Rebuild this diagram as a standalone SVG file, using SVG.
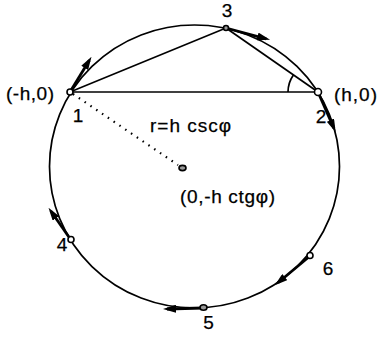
<svg xmlns="http://www.w3.org/2000/svg" width="378" height="339" viewBox="0 0 378 339">
<defs>
<marker id="ah" viewBox="0 0 13 8" refX="9" refY="4" markerWidth="13" markerHeight="8" markerUnits="userSpaceOnUse" orient="auto">
<path d="M0,0 L13,4 L0,8 z" fill="#000"/>
</marker>
<style>
.ln{stroke:#000;stroke-width:1.7;fill:none}
.ar{stroke:#000;stroke-width:2.8;fill:none;marker-end:url(#ah)}
.pt{stroke:#000;stroke-width:1.6;fill:#fff}
.ptg{stroke:#000;stroke-width:1.6;fill:#999}
.tx{font-family:"Liberation Sans",Arial,sans-serif;font-size:19px;fill:#000;stroke:#000;stroke-width:0.25}
</style>
</defs>
<rect width="378" height="339" fill="#fff"/>
<g id="circle">
<ellipse cx="194.5" cy="166.5" rx="145" ry="141.5" class="ln"/>
</g>
<g id="connectors">
<line x1="70" y1="92" x2="318" y2="92" class="ln"/>
<line x1="70" y1="92" x2="226" y2="28" class="ln"/>
<line x1="226" y1="28" x2="318" y2="92" class="ln"/>
<path d="M288,92 A30,30 0 0 1 293.4,74.9" class="ln"/>
<line x1="73" y1="94" x2="178" y2="165" stroke="#000" stroke-width="2.2" stroke-dasharray="1.5 5.5"/>
<line x1="70" y1="92" x2="89.4" y2="60.2" class="ar"/>
<line x1="226" y1="28" x2="266.2" y2="38.8" class="ar"/>
<line x1="318" y1="92" x2="334" y2="128.4" class="ar"/>
<line x1="71" y1="240" x2="50.8" y2="211" class="ar"/>
<line x1="203" y1="308" x2="167" y2="309" class="ar"/>
<line x1="310" y1="256" x2="277.9" y2="282.8" class="ar"/>
</g>
<g id="p1">
<circle cx="70" cy="92" r="3" class="pt"/>
<text x="6" y="100" class="tx" textLength="48">(-h,0)</text>
<text x="78" y="121.5" class="tx" text-anchor="middle">1</text>
</g>
<g id="p2">
<circle cx="318" cy="92" r="3.5" class="pt"/>
<text x="334" y="101" class="tx" textLength="43">(h,0)</text>
<text x="321" y="123" class="tx" text-anchor="middle">2</text>
</g>
<g id="p3">
<circle cx="226" cy="28" r="2.5" class="ptg"/>
<text x="227" y="17" class="tx" text-anchor="middle">3</text>
</g>
<g id="p4">
<circle cx="71" cy="239.5" r="3" class="pt"/>
<text x="62" y="251" class="tx" text-anchor="middle">4</text>
</g>
<g id="p5">
<ellipse cx="203.5" cy="307.5" rx="3.5" ry="2.8" class="ptg"/>
<text x="208.5" y="329" class="tx" text-anchor="middle">5</text>
</g>
<g id="p6">
<circle cx="310" cy="255.5" r="3" class="pt"/>
<text x="328" y="275" class="tx" text-anchor="middle">6</text>
</g>
<g id="center">
<ellipse cx="182.5" cy="168" rx="3.5" ry="2.6" class="ptg"/>
<text x="180" y="203" class="tx" textLength="95">(0,-h ctgφ)</text>
</g>
<g id="radius">
<text x="150" y="131.5" class="tx" textLength="81">r=h cscφ</text>
</g>
</svg>
